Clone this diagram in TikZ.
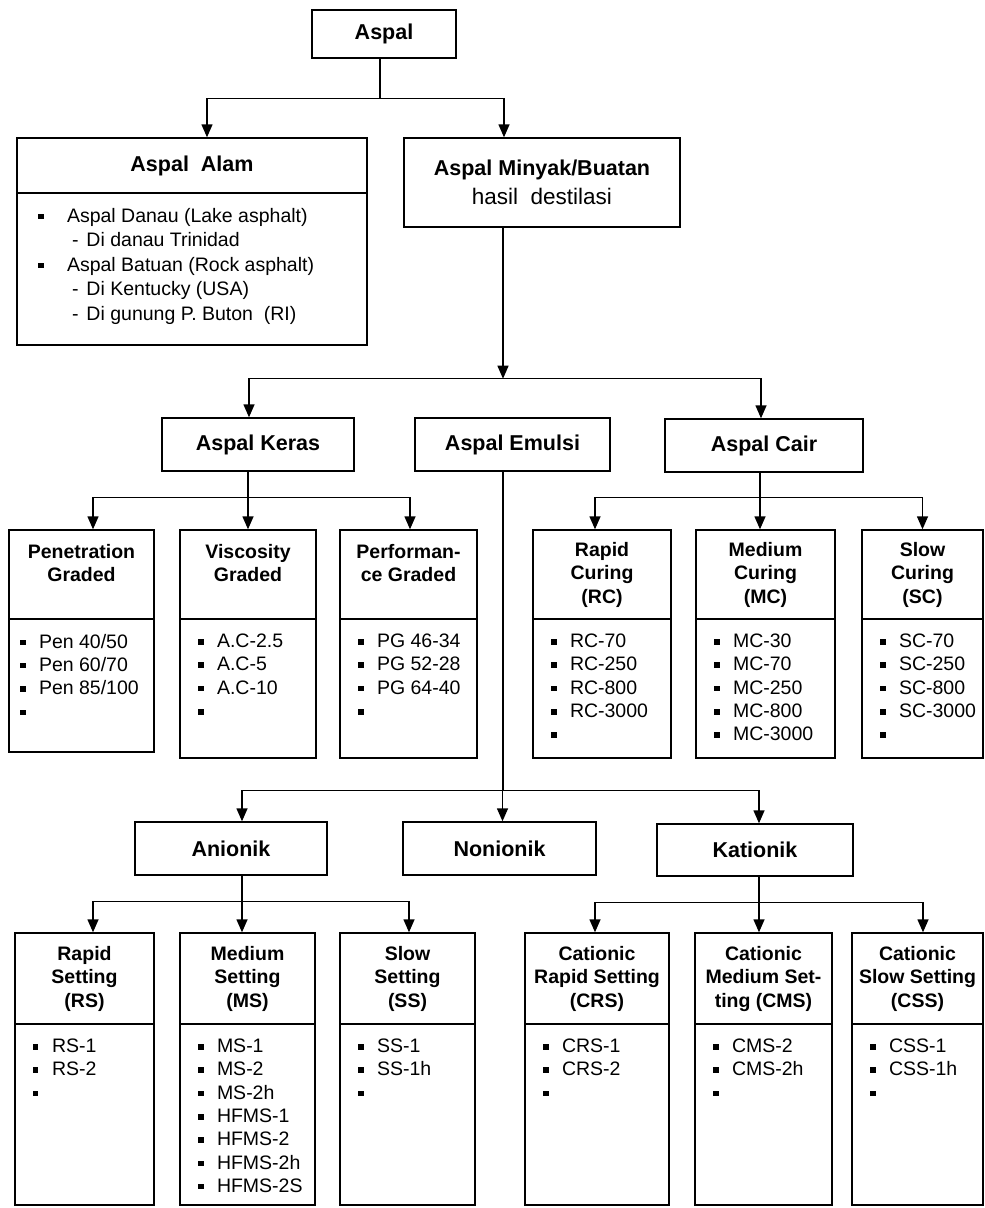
\documentclass[tikz,border=0pt]{standalone}
\usepackage{fontspec}
\setmainfont{Liberation Sans}
\usetikzlibrary{arrows.meta}

\newcommand{\bul}[1][19pt]{\makebox[#1][l]{\rule[3pt]{5.5pt}{5.5pt}}}

\begin{document}
\begin{tikzpicture}[x=1pt, y=-1pt, line width=1.4pt,
    lvl/.style={draw, minimum height=53pt, inner sep=0pt, align=center, font=\fontsize{21.5}{29}\selectfont\bfseries},
    head/.style={draw, minimum height=89pt, inner sep=0pt, align=center, font=\fontsize{19.5}{23.5}\selectfont\bfseries},
    listbox/.style={draw, inner sep=0pt},
    items/.style={anchor=north west, inner xsep=18pt, inner ysep=15pt, align=left, font=\fontsize{19.5}{23.3}\selectfont},
    arr/.style={-{Triangle[length=13pt,width=11pt]}}]
    \fill[white] (0,0) rectangle (985,1208);
    \useasboundingbox (0,0) rectangle (985,1208);

    \node at (384, 34) [lvl, minimum width=144pt, minimum height=48pt] (aspal) {Aspal};

    \node at (192, 165.5) [lvl, minimum width=350pt, minimum height=55pt] (alam) {Aspal\ \ Alam};
    \node at (192, 269) [listbox, minimum width=350pt, minimum height=152pt] (alamL) {};
    \node at (alamL.north west) [items, inner xsep=21pt, font=\fontsize{19.5}{24.5}\selectfont] (alamI)
        {\bul[29pt]Aspal Danau (Lake asphalt)\\
         \hspace*{34pt}-\hspace{8pt}Di danau Trinidad\\
         \bul[29pt]Aspal Batuan (Rock asphalt)\\
         \hspace*{34pt}-\hspace{8pt}Di Kentucky (USA)\\
         \hspace*{34pt}-\hspace{8pt}Di gunung P. Buton\ \ (RI)};
    \node at (542, 182.5) [lvl, minimum width=276pt, minimum height=89pt] (minyak)
        {Aspal Minyak/Buatan\\{\mdseries\fontsize{22.5}{29}\selectfont hasil\ \ destilasi}};

    \node at (258, 444.5) [lvl, minimum width=192pt] (keras) {Aspal Keras};
    \node at (512.5, 444.5) [lvl, minimum width=195pt] (emulsi) {Aspal Emulsi};
    \node at (764, 445.5) [lvl, minimum width=198pt] (cair) {Aspal Cair};

    \node at (81.5, 574.5) [head, minimum width=145pt] (pen) {Penetration\\Graded\\~};
    \node at (81.5, 685.5) [listbox, minimum width=145pt, minimum height=133pt] (penL) {};
    \node at (penL.north west) [items, inner xsep=11pt] (penI) {\bul Pen 40/50\\ \bul Pen 60/70\\ \bul Pen 85/100\\ \bul};

    \node at (248, 574.5) [head, minimum width=136pt] (visc) {Viscosity\\Graded\\~};
    \node at (248, 688.5) [listbox, minimum width=136pt, minimum height=139pt] (viscL) {};
    \node at (viscL.north west) [items] (viscI) {\bul A.C-2.5\\ \bul A.C-5\\ \bul A.C-10\\ \bul};

    \node at (408.5, 574.5) [head, minimum width=137pt] (perf) {Performan-\\ce Graded\\~};
    \node at (408.5, 688.5) [listbox, minimum width=137pt, minimum height=139pt] (perfL) {};
    \node at (perfL.north west) [items] (perfI) {\bul PG 46-34\\ \bul PG 52-28\\ \bul PG 64-40\\ \bul};

    \node at (602, 574.5) [head, minimum width=138pt] (rc) {Rapid\\Curing\\(RC)};
    \node at (602, 688.5) [listbox, minimum width=138pt, minimum height=139pt] (rcL) {};
    \node at (rcL.north west) [items] (rcI) {\bul RC-70\\ \bul RC-250\\ \bul RC-800\\ \bul RC-3000\\ \bul};

    \node at (765.5, 574.5) [head, minimum width=139pt] (mc) {Medium\\Curing\\(MC)};
    \node at (765.5, 688.5) [listbox, minimum width=139pt, minimum height=139pt] (mcL) {};
    \node at (mcL.north west) [items] (mcI) {\bul MC-30\\ \bul MC-70\\ \bul MC-250\\ \bul MC-800\\ \bul MC-3000};

    \node at (922.5, 574.5) [head, minimum width=121pt] (sc) {Slow\\Curing\\(SC)};
    \node at (922.5, 688.5) [listbox, minimum width=121pt, minimum height=139pt] (scL) {};
    \node at (scL.north west) [items] (scI) {\bul SC-70\\ \bul SC-250\\ \bul SC-800\\ \bul SC-3000\\ \bul};

    \node at (231, 848.5) [lvl, minimum width=192pt] (anion) {Anionik};
    \node at (499.5, 848.5) [lvl, minimum width=193pt] (nonion) {Nonionik};
    \node at (755, 850) [lvl, minimum width=196pt, minimum height=52pt] (kation) {Kationik};

    \node at (84.5, 978.5) [head, minimum width=139pt, minimum height=91pt] (rs) {Rapid\\Setting\\(RS)};
    \node at (84.5, 1114.5) [listbox, minimum width=139pt, minimum height=181pt] (rsL) {};
    \node at (rsL.north west) [items] (rsI) {\bul RS-1\\ \bul RS-2\\ \bul};

    \node at (247.5, 978.5) [head, minimum width=135pt, minimum height=91pt] (ms) {Medium\\Setting\\(MS)};
    \node at (247.5, 1114.5) [listbox, minimum width=135pt, minimum height=181pt] (msL) {};
    \node at (msL.north west) [items] (msI) {\bul MS-1\\ \bul MS-2\\ \bul MS-2h\\ \bul HFMS-1\\ \bul HFMS-2\\ \bul HFMS-2h\\ \bul HFMS-2S};

    \node at (407.5, 978.5) [head, minimum width=135pt, minimum height=91pt] (ss) {Slow\\Setting\\(SS)};
    \node at (407.5, 1114.5) [listbox, minimum width=135pt, minimum height=181pt] (ssL) {};
    \node at (ssL.north west) [items] (ssI) {\bul SS-1\\ \bul SS-1h\\ \bul};

    \node at (597, 978.5) [head, minimum width=144pt, minimum height=91pt] (crs) {Cationic\\Rapid Setting\\(CRS)};
    \node at (597, 1114.5) [listbox, minimum width=144pt, minimum height=181pt] (crsL) {};
    \node at (crsL.north west) [items] (crsI) {\bul CRS-1\\ \bul CRS-2\\ \bul};

    \node at (763.5, 978.5) [head, minimum width=137pt, minimum height=91pt] (cms) {Cationic\\Medium Set-\\ting (CMS)};
    \node at (763.5, 1114.5) [listbox, minimum width=137pt, minimum height=181pt] (cmsL) {};
    \node at (cmsL.north west) [items] (cmsI) {\bul CMS-2\\ \bul CMS-2h\\ \bul};

    \node at (917.5, 978.5) [head, minimum width=131pt, minimum height=91pt] (css) {Cationic\\Slow Setting\\(CSS)};
    \node at (917.5, 1114.5) [listbox, minimum width=131pt, minimum height=181pt] (cssL) {};
    \node at (cssL.north west) [items] (cssI) {\bul CSS-1\\ \bul CSS-1h\\ \bul};

    \draw ([xshift=-4pt]aspal.south) -- ++(0,40) coordinate (j0);
    \draw[arr] (j0) -| ([xshift=15pt]alam.north);
    \draw[arr] (j0) -| ([xshift=-38pt]minyak.north);

    \draw[arr] ([xshift=-39pt]minyak.south) -- ++(0,151) coordinate (j1);
    \draw[arr] (j1) -| ([xshift=-9pt]keras.north);
    \draw[arr] (j1) -| ([xshift=-3pt]cair.north);

    \draw ([xshift=-10pt]keras.south) -- ++(0,26) coordinate (j2);
    \draw[arr] (j2) -| ([xshift=11.5pt]pen.north);
    \draw[arr] (j2) -| (visc.north);
    \draw[arr] (j2) -| ([xshift=1.5pt]perf.north);

    \draw ([xshift=-4pt]cair.south) -- ++(0,25) coordinate (j3);
    \draw[arr] (j3) -| ([xshift=-7pt]rc.north);
    \draw[arr] (j3) -| ([xshift=-5.5pt]mc.north);
    \draw[arr] (j3) -| (sc.north);

    \draw ([xshift=-9.5pt]emulsi.south) -- ++(0,319) coordinate (j4);
    \draw[arr] (j4) -| ([xshift=11pt]anion.north);
    \draw[arr] (j4) -| ([xshift=3pt]nonion.north);
    \draw[arr] (j4) -| ([xshift=4pt]kation.north);

    \draw ([xshift=11pt]anion.south) -- ++(0,26) coordinate (j5);
    \draw[arr] (j5) -| ([xshift=8.5pt]rs.north);
    \draw[arr] (j5) -| ([xshift=-5.5pt]ms.north);
    \draw[arr] (j5) -| ([xshift=1.5pt]ss.north);

    \draw ([xshift=4pt]kation.south) -- ++(0,26) coordinate (j6);
    \draw[arr] (j6) -| ([xshift=-2pt]crs.north);
    \draw[arr] (j6) -| ([xshift=-4.5pt]cms.north);
    \draw[arr] (j6) -| ([xshift=5.5pt]css.north);
\end{tikzpicture}
\end{document}
